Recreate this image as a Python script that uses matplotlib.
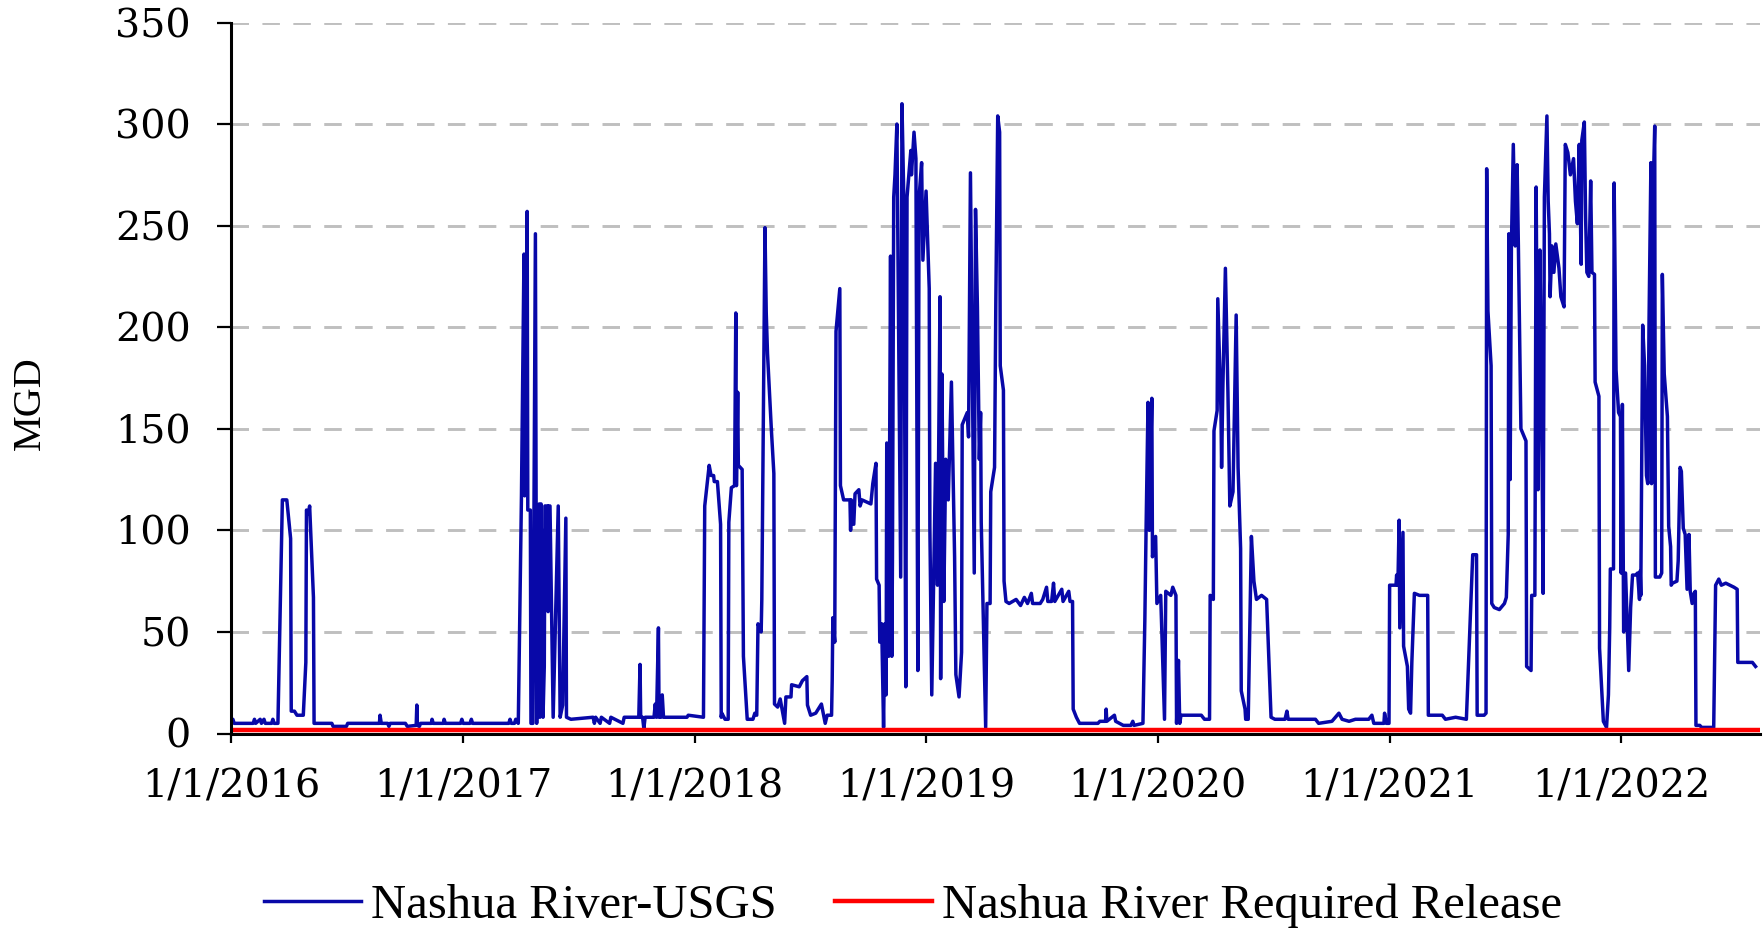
import matplotlib
matplotlib.use("Agg")
import matplotlib.pyplot as plt
import pandas as pd
from matplotlib.font_manager import FontProperties

# ---------------- data ----------------
flow_2016 = [
    ("2016-01-01", 6), ("2016-01-04", 7), ("2016-01-06", 5), ("2016-02-05", 5), ("2016-02-07", 7),
    ("2016-02-09", 5), ("2016-02-16", 7), ("2016-02-18", 5), ("2016-02-22", 7), ("2016-02-24", 5),
    ("2016-03-05", 5), ("2016-03-07", 7), ("2016-03-09", 5), ("2016-03-15", 5), ("2016-03-22", 115),
    ("2016-03-29", 115), ("2016-04-04", 96), ("2016-04-05", 11), ("2016-04-10", 11), ("2016-04-14", 9),
    ("2016-04-24", 9), ("2016-04-28", 35), ("2016-04-29", 110), ("2016-05-02", 108), ("2016-05-04", 112),
    ("2016-05-10", 67), ("2016-05-11", 5), ("2016-06-08", 5), ("2016-06-10", 3.5), ("2016-07-01", 3.5),
    ("2016-07-03", 5), ("2016-08-22", 5), ("2016-08-23", 9), ("2016-08-25", 5), ("2016-09-04", 5),
    ("2016-09-06", 3.5), ("2016-09-08", 5), ("2016-10-02", 5), ("2016-10-05", 3.5), ("2016-10-19", 4),
    ("2016-10-20", 14), ("2016-10-21", 4), ("2016-10-24", 3.5), ("2016-10-26", 5), ("2016-11-12", 5),
    ("2016-11-13", 7), ("2016-11-15", 5), ("2016-12-01", 5), ("2016-12-02", 7), ("2016-12-04", 5),
    ("2016-12-28", 5), ("2016-12-30", 7),
]
flow_2017 = [
    ("2017-01-01", 5), ("2017-01-12", 5), ("2017-01-14", 7), ("2017-01-16", 5), ("2017-03-14", 5),
    ("2017-03-16", 7), ("2017-03-18", 5), ("2017-03-23", 5), ("2017-03-25", 7), ("2017-03-29", 5),
    ("2017-04-03", 117), ("2017-04-07", 236), ("2017-04-08", 117), ("2017-04-12", 257), ("2017-04-13", 110),
    ("2017-04-17", 110), ("2017-04-18", 5), ("2017-04-21", 5), ("2017-04-25", 246), ("2017-04-27", 5),
    ("2017-04-29", 80), ("2017-04-30", 10), ("2017-05-01", 113), ("2017-05-02", 8), ("2017-05-03", 90),
    ("2017-05-04", 113), ("2017-05-05", 20), ("2017-05-06", 100), ("2017-05-07", 8), ("2017-05-09", 33),
    ("2017-05-10", 112), ("2017-05-14", 112), ("2017-05-15", 60), ("2017-05-16", 112), ("2017-05-18", 112),
    ("2017-05-23", 8), ("2017-05-31", 112), ("2017-06-03", 8), ("2017-06-07", 14), ("2017-06-12", 106),
    ("2017-06-13", 8), ("2017-06-20", 7), ("2017-07-25", 8), ("2017-07-27", 5), ("2017-07-29", 8),
    ("2017-08-05", 5), ("2017-08-07", 8), ("2017-08-20", 5), ("2017-08-22", 8), ("2017-09-10", 5),
    ("2017-09-12", 8), ("2017-10-05", 8), ("2017-10-07", 34), ("2017-10-08", 8), ("2017-10-11", 8),
    ("2017-10-13", 2.5), ("2017-10-15", 8), ("2017-10-29", 8), ("2017-10-31", 14.5), ("2017-11-02", 8),
    ("2017-11-05", 52), ("2017-11-06", 8), ("2017-11-09", 8), ("2017-11-11", 19), ("2017-11-13", 8),
    ("2017-12-20", 8), ("2017-12-22", 9),
]
flow_2018 = [
    ("2018-01-15", 8), ("2018-01-17", 112), ("2018-01-24", 132), ("2018-01-27", 127), ("2018-01-31", 127),
    ("2018-02-01", 124), ("2018-02-06", 124), ("2018-02-11", 103), ("2018-02-12", 8), ("2018-02-13", 10),
    ("2018-02-18", 7), ("2018-02-23", 7), ("2018-02-24", 104), ("2018-02-28", 121), ("2018-03-05", 122),
    ("2018-03-07", 207), ("2018-03-08", 122), ("2018-03-10", 168), ("2018-03-11", 132), ("2018-03-17", 130),
    ("2018-03-19", 38), ("2018-03-25", 7), ("2018-04-03", 7), ("2018-04-06", 10), ("2018-04-09", 9),
    ("2018-04-11", 54), ("2018-04-16", 50), ("2018-04-17", 66), ("2018-04-22", 249), ("2018-04-24", 207),
    ("2018-04-26", 187), ("2018-04-29", 168), ("2018-05-02", 150), ("2018-05-06", 128), ("2018-05-07", 14.5),
    ("2018-05-12", 13), ("2018-05-16", 17), ("2018-05-23", 5), ("2018-05-25", 18), ("2018-06-02", 18),
    ("2018-06-03", 24), ("2018-06-15", 23), ("2018-06-20", 26), ("2018-06-27", 28), ("2018-06-28", 14),
    ("2018-07-03", 9), ("2018-07-11", 10), ("2018-07-20", 14.5), ("2018-07-26", 5), ("2018-07-29", 9),
    ("2018-08-05", 9), ("2018-08-06", 26), ("2018-08-07", 57), ("2018-08-10", 45), ("2018-08-12", 198),
    ("2018-08-18", 219), ("2018-08-19", 122), ("2018-08-24", 115), ("2018-09-03", 115), ("2018-09-04", 100),
    ("2018-09-05", 115), ("2018-09-09", 103), ("2018-09-11", 118), ("2018-09-17", 120), ("2018-09-19", 112),
    ("2018-09-22", 115), ("2018-10-06", 113), ("2018-10-09", 123), ("2018-10-14", 133), ("2018-10-15", 76),
    ("2018-10-19", 73), ("2018-10-20", 45), ("2018-10-23", 54), ("2018-10-26", 3), ("2018-10-28", 54),
    ("2018-10-30", 19), ("2018-10-31", 143), ("2018-11-03", 38), ("2018-11-06", 235), ("2018-11-08", 38),
    ("2018-11-09", 85), ("2018-11-11", 264), ("2018-11-13", 275), ("2018-11-16", 300), ("2018-11-22", 77),
    ("2018-11-24", 310), ("2018-11-27", 262), ("2018-11-30", 23), ("2018-12-02", 264), ("2018-12-08", 287),
    ("2018-12-09", 275), ("2018-12-13", 296), ("2018-12-16", 283), ("2018-12-19", 31), ("2018-12-21", 264),
    ("2018-12-25", 281), ("2018-12-27", 233),
]
flow_2019 = [
    ("2019-01-01", 267), ("2019-01-06", 219), ("2019-01-07", 102), ("2019-01-10", 19), ("2019-01-16", 133),
    ("2019-01-19", 73), ("2019-01-23", 215), ("2019-01-24", 27), ("2019-01-26", 177), ("2019-01-29", 65),
    ("2019-02-01", 135), ("2019-02-05", 115), ("2019-02-10", 173), ("2019-02-15", 87), ("2019-02-17", 29),
    ("2019-02-22", 18), ("2019-02-26", 40), ("2019-02-27", 152), ("2019-03-07", 158), ("2019-03-09", 146),
    ("2019-03-12", 276), ("2019-03-18", 79), ("2019-03-20", 258), ("2019-03-23", 210), ("2019-03-26", 135),
    ("2019-03-28", 158), ("2019-03-29", 104), ("2019-04-05", 3), ("2019-04-07", 64), ("2019-04-12", 64),
    ("2019-04-13", 119), ("2019-04-19", 131), ("2019-04-21", 212), ("2019-04-24", 304), ("2019-04-27", 296),
    ("2019-04-28", 181), ("2019-05-03", 169), ("2019-05-04", 75), ("2019-05-07", 65), ("2019-05-12", 64),
    ("2019-05-23", 66), ("2019-05-30", 63), ("2019-06-05", 67), ("2019-06-10", 64), ("2019-06-16", 69),
    ("2019-06-18", 64), ("2019-06-30", 64), ("2019-07-04", 66), ("2019-07-10", 72), ("2019-07-12", 65),
    ("2019-07-18", 65), ("2019-07-21", 74), ("2019-07-23", 65), ("2019-08-03", 71), ("2019-08-05", 65),
    ("2019-08-14", 70), ("2019-08-16", 65), ("2019-08-20", 65), ("2019-08-21", 12), ("2019-08-26", 8),
    ("2019-08-31", 5), ("2019-09-29", 5), ("2019-10-02", 6), ("2019-10-11", 6), ("2019-10-12", 12),
    ("2019-10-13", 6), ("2019-10-25", 9), ("2019-10-27", 6), ("2019-11-08", 4), ("2019-11-20", 4),
    ("2019-11-23", 6), ("2019-11-25", 4), ("2019-12-09", 5), ("2019-12-12", 56), ("2019-12-14", 102),
    ("2019-12-17", 163), ("2019-12-19", 100), ("2019-12-23", 165), ("2019-12-24", 87), ("2019-12-29", 97),
    ("2019-12-31", 64),
]
flow_2020 = [
    ("2020-01-06", 68), ("2020-01-12", 7), ("2020-01-14", 70), ("2020-01-22", 68), ("2020-01-25", 72),
    ("2020-01-30", 68), ("2020-01-31", 5), ("2020-02-03", 36), ("2020-02-05", 5), ("2020-02-07", 9),
    ("2020-03-10", 9), ("2020-03-15", 7), ("2020-03-23", 7), ("2020-03-24", 68), ("2020-03-29", 66),
    ("2020-03-30", 149), ("2020-04-04", 159), ("2020-04-05", 214), ("2020-04-10", 159), ("2020-04-11", 131),
    ("2020-04-13", 170), ("2020-04-17", 229), ("2020-04-21", 168), ("2020-04-24", 112), ("2020-04-29", 119),
    ("2020-05-04", 206), ("2020-05-07", 131), ("2020-05-11", 91), ("2020-05-12", 21), ("2020-05-18", 12),
    ("2020-05-19", 7), ("2020-05-23", 7), ("2020-05-28", 97), ("2020-06-01", 75), ("2020-06-05", 66),
    ("2020-06-13", 68), ("2020-06-21", 66), ("2020-06-28", 8), ("2020-07-04", 7), ("2020-07-20", 7),
    ("2020-07-23", 11), ("2020-07-25", 7), ("2020-09-06", 7), ("2020-09-11", 5), ("2020-10-02", 6),
    ("2020-10-13", 10), ("2020-10-18", 7), ("2020-10-29", 6), ("2020-11-08", 7), ("2020-11-29", 7),
    ("2020-12-04", 9), ("2020-12-07", 5), ("2020-12-23", 5), ("2020-12-24", 10), ("2020-12-27", 5),
    ("2020-12-31", 5),
]
flow_2021 = [
    ("2021-01-01", 73), ("2021-01-11", 73), ("2021-01-12", 78), ("2021-01-14", 73), ("2021-01-16", 105),
    ("2021-01-17", 52), ("2021-01-22", 99), ("2021-01-23", 43), ("2021-01-29", 33), ("2021-01-31", 12),
    ("2021-02-03", 10), ("2021-02-05", 35), ("2021-02-09", 69), ("2021-02-17", 68), ("2021-03-02", 68),
    ("2021-03-03", 9), ("2021-03-25", 9), ("2021-03-30", 7), ("2021-04-15", 8), ("2021-05-02", 7),
    ("2021-05-05", 31), ("2021-05-12", 88), ("2021-05-18", 88), ("2021-05-19", 9), ("2021-05-30", 9),
    ("2021-06-02", 10), ("2021-06-03", 278), ("2021-06-05", 208), ("2021-06-10", 181), ("2021-06-11", 64),
    ("2021-06-15", 62), ("2021-06-23", 61), ("2021-07-01", 64), ("2021-07-04", 67), ("2021-07-07", 98),
    ("2021-07-08", 246), ("2021-07-10", 125), ("2021-07-12", 240), ("2021-07-15", 290), ("2021-07-18", 240),
    ("2021-07-21", 280), ("2021-07-23", 240), ("2021-07-27", 150), ("2021-08-04", 144), ("2021-08-05", 33),
    ("2021-08-12", 31), ("2021-08-13", 68), ("2021-08-18", 68), ("2021-08-20", 269), ("2021-08-23", 120),
    ("2021-08-26", 238), ("2021-08-29", 150), ("2021-08-31", 69), ("2021-09-02", 264), ("2021-09-06", 304),
    ("2021-09-08", 262), ("2021-09-10", 246), ("2021-09-11", 215), ("2021-09-14", 240), ("2021-09-17", 227),
    ("2021-09-20", 241), ("2021-09-25", 229), ("2021-09-28", 215), ("2021-10-03", 210), ("2021-10-05", 290),
    ("2021-10-09", 286), ("2021-10-13", 275), ("2021-10-18", 283), ("2021-10-21", 262), ("2021-10-24", 251),
    ("2021-10-27", 290), ("2021-10-30", 231), ("2021-10-31", 292), ("2021-11-04", 301), ("2021-11-06", 254),
    ("2021-11-08", 227), ("2021-11-11", 225), ("2021-11-14", 272), ("2021-11-16", 227), ("2021-11-20", 226),
    ("2021-11-21", 173), ("2021-11-27", 166), ("2021-11-28", 42), ("2021-12-04", 6), ("2021-12-09", 3),
    ("2021-12-12", 19), ("2021-12-14", 52), ("2021-12-15", 81), ("2021-12-20", 81), ("2021-12-21", 271),
    ("2021-12-24", 179), ("2021-12-28", 158), ("2021-12-31", 156),
]
flow_2022 = [
    ("2022-01-01", 79), ("2022-01-03", 162), ("2022-01-05", 50), ("2022-01-08", 79), ("2022-01-13", 31),
    ("2022-01-16", 62), ("2022-01-19", 78), ("2022-01-24", 78), ("2022-01-27", 79), ("2022-01-30", 66),
    ("2022-01-31", 80), ("2022-02-01", 68), ("2022-02-04", 201), ("2022-02-07", 181), ("2022-02-10", 127),
    ("2022-02-12", 123), ("2022-02-14", 202), ("2022-02-17", 281), ("2022-02-18", 123), ("2022-02-20", 260),
    ("2022-02-23", 299), ("2022-02-24", 77), ("2022-03-03", 77), ("2022-03-06", 79), ("2022-03-07", 226),
    ("2022-03-10", 177), ("2022-03-15", 156), ("2022-03-17", 102), ("2022-03-20", 92), ("2022-03-21", 73),
    ("2022-03-23", 74), ("2022-03-30", 75), ("2022-04-01", 85), ("2022-04-04", 131), ("2022-04-06", 129),
    ("2022-04-09", 101), ("2022-04-12", 98), ("2022-04-15", 71), ("2022-04-18", 98), ("2022-04-20", 70),
    ("2022-04-23", 64), ("2022-04-26", 69), ("2022-04-28", 70), ("2022-04-29", 4), ("2022-05-05", 4),
    ("2022-05-08", 3), ("2022-05-27", 3), ("2022-05-30", 73), ("2022-06-04", 76), ("2022-06-08", 73),
    ("2022-06-15", 74), ("2022-06-28", 72), ("2022-07-03", 71), ("2022-07-04", 35), ("2022-07-27", 35),
    ("2022-08-01", 33),
]

release_dates = ["2016-01-01", "2022-08-08"]
release_mgd = [1.5, 1.5]

year_ticks = ["2016-01-01", "2017-01-01", "2018-01-01", "2019-01-01",
              "2020-01-01", "2021-01-01", "2022-01-01"]
year_labels = ["1/1/2016", "1/1/2017", "1/1/2018", "1/1/2019",
               "1/1/2020", "1/1/2021", "1/1/2022"]
y_ticks = [0, 50, 100, 150, 200, 250, 300, 350]

series_names = ["Nashua River-USGS", "Nashua River Required Release"]

# ---------------- build ----------------
rows = flow_2016 + flow_2017 + flow_2018 + flow_2019 + flow_2020 + flow_2021 + flow_2022
usgs_dates = pd.to_datetime([d for d, _ in rows])
usgs_mgd = [v for _, v in rows]

W, H = 1764, 934
fig = plt.figure(figsize=(W / 100, H / 100), dpi=100)
ax = fig.add_axes([231 / W, 1 - 733.5 / H, (1760 - 231) / W, (733.5 - 22.5) / H])

blue = "#0808A8"
red = "#FF0000"
l1, = ax.plot(usgs_dates, usgs_mgd, color=blue, lw=2.5, solid_joinstyle="round", zorder=3)
l2, = ax.plot(pd.to_datetime(release_dates), release_mgd, color=red, lw=3.2, zorder=4)

ax.set_xlim(pd.Timestamp("2016-01-01"), pd.Timestamp("2022-08-08"))
ax.set_ylim(0, 350)
ax.set_yticks(y_ticks)
ax.set_xticks(pd.to_datetime(year_ticks))
ax.set_xticklabels(year_labels)

ax.yaxis.grid(True, color="#BFBFBF", linestyle=(0, (6.0, 4.6)), linewidth=2.1)
ax.set_axisbelow(True)
for s in ["top", "right"]:
    ax.spines[s].set_visible(False)
for s in ["left", "bottom"]:
    ax.spines[s].set_linewidth(2.2)
    ax.spines[s].set_color("black")
    ax.spines[s].set_zorder(5)

tick_font = FontProperties(family="DejaVu Serif", size=28.5)
ax.tick_params(axis="y", length=10, width=1.6, pad=19, direction="out")
ax.tick_params(axis="x", length=6.5, width=1.6, pad=19, direction="out")
for lab in ax.get_xticklabels() + ax.get_yticklabels():
    lab.set_fontproperties(tick_font)

fig.text(30 / W, 1 - 403 / H, "MGD", rotation=90, ha="center", va="center",
         fontproperties=FontProperties(family="Liberation Serif", size=29))

fig.legend([l1, l2], series_names, loc="center", bbox_to_anchor=(913 / W, 0.03),
           ncol=2, frameon=False, prop=FontProperties(family="Liberation Serif", size=35),
           handlelength=2.0, handletextpad=0.2, columnspacing=1.2)

fig.savefig("out.png", dpi=100)
